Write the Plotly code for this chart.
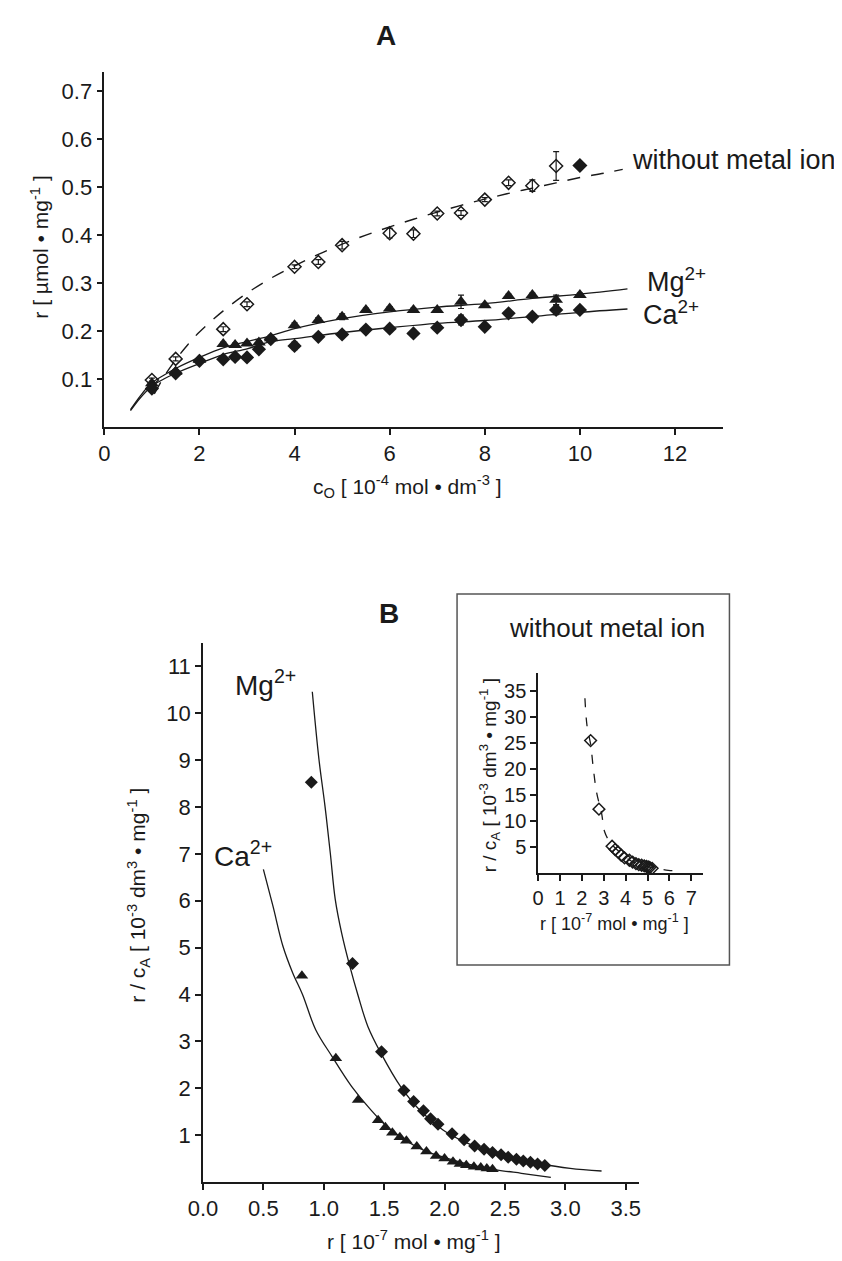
import plotly.graph_objects as go

W, H = 842, 1261
FONT = "Liberation Sans, Arial, sans-serif"
INK = "#1a1a1a"
OFF = 8  # the page body adds an 8px margin; compensate so reference pixels line up

def px(x):
    return (x - OFF) / W

def py(y):
    return 1 - (y - OFF) / H

# ---------------- Panel A data ----------------
c_metal = [1.0, 1.5, 2.0, 2.5, 2.75, 3.0, 3.25, 3.5, 4.0, 4.5, 5.0, 5.5, 6.0, 6.5, 7.0, 7.5, 8.0, 8.5, 9.0, 9.5, 10.0]
r_mg = [0.091, 0.115, 0.140, 0.173, 0.171, 0.174, 0.176, 0.185, 0.212, 0.223, 0.230, 0.244, 0.247, 0.244, 0.244, 0.261, 0.254, 0.273, 0.275, 0.265, 0.275]
err_mg = [0.004, 0.004, 0.004, 0.004, 0.004, 0.004, 0.004, 0.006, 0.005, 0.005, 0.006, 0.004, 0.004, 0.004, 0.004, 0.014, 0.004, 0.004, 0.004, 0.01, 0.004]
r_ca = [0.080, 0.112, 0.138, 0.141, 0.146, 0.145, 0.162, 0.183, 0.169, 0.188, 0.193, 0.203, 0.205, 0.195, 0.207, 0.223, 0.209, 0.237, 0.230, 0.244, 0.244]
err_ca = [0.006, 0.004, 0.004, 0.004, 0.004, 0.004, 0.004, 0.006, 0.008, 0.004, 0.004, 0.004, 0.004, 0.004, 0.004, 0.01, 0.004, 0.004, 0.004, 0.01, 0.004]

c_free = [1.0, 1.5, 2.5, 3.0, 4.0, 4.5, 5.0, 6.0, 6.5, 7.0, 7.5, 8.0, 8.5, 9.0, 9.5, 10.0]
r_free = [0.098, 0.142, 0.204, 0.256, 0.334, 0.344, 0.379, 0.404, 0.403, 0.445, 0.446, 0.474, 0.509, 0.503, 0.544, 0.545]
err_free = [0.004, 0.004, 0.005, 0.005, 0.004, 0.005, 0.008, 0.01, 0.008, 0.005, 0.005, 0.004, 0.006, 0.012, 0.03, 0.0]
sym_free = ["diamond-open"] * 15 + ["diamond"]

c_fit_free = [1.05, 1.25, 1.5, 1.75, 2.0, 2.5, 3.0, 3.5, 4.0, 4.5, 5.0, 5.5, 6.0, 6.5, 7.0, 7.5, 8.0, 8.5, 9.0, 9.5, 10.0, 10.5, 10.9]
r_fit_free = [0.069, 0.104, 0.140, 0.171, 0.198, 0.242, 0.279, 0.310, 0.336, 0.360, 0.381, 0.400, 0.417, 0.433, 0.448, 0.462, 0.475, 0.487, 0.498, 0.509, 0.520, 0.529, 0.537]

c_fit_metal = [0.55, 0.75, 1.0, 1.25, 1.5, 2.0, 2.5, 3.0, 3.5, 4.0, 5.0, 6.0, 7.0, 8.0, 9.0, 10.0, 11.0]
r_fit_mg = [0.036, 0.064, 0.092, 0.108, 0.122, 0.145, 0.165, 0.178, 0.190, 0.205, 0.226, 0.240, 0.250, 0.257, 0.268, 0.277, 0.288]
r_fit_ca = [0.034, 0.060, 0.085, 0.100, 0.112, 0.132, 0.151, 0.163, 0.178, 0.184, 0.197, 0.207, 0.216, 0.222, 0.230, 0.239, 0.246]

a_xticks = [0, 2, 4, 6, 8, 10, 12]
a_yticks = [0.1, 0.2, 0.3, 0.4, 0.5, 0.6, 0.7]

# ---------------- Panel B data ----------------
b_mg_r = [0.897, 1.238, 1.478, 1.663, 1.744, 1.825, 1.884, 1.946, 2.062, 2.162, 2.249, 2.327, 2.397, 2.468, 2.527, 2.595, 2.652, 2.711, 2.770, 2.830]
b_mg_rc = [8.53, 4.66, 2.78, 1.95, 1.72, 1.52, 1.35, 1.23, 1.03, 0.90, 0.77, 0.70, 0.63, 0.58, 0.53, 0.485, 0.45, 0.42, 0.385, 0.35]
b_ca_r = [0.819, 1.10, 1.284, 1.45, 1.51, 1.568, 1.63, 1.684, 1.77, 1.85, 1.93, 2.0, 2.07, 2.127, 2.18, 2.243, 2.30, 2.35, 2.397]
b_ca_rc = [4.40, 2.64, 1.75, 1.32, 1.17, 1.05, 0.955, 0.88, 0.755, 0.65, 0.555, 0.50, 0.43, 0.385, 0.356, 0.327, 0.31, 0.29, 0.27]

b_fit_mg_r = [0.905, 0.96, 1.01, 1.054, 1.095, 1.148, 1.216, 1.284, 1.365, 1.473, 1.635, 1.80, 1.987, 2.17, 2.365, 2.57, 2.77, 3.04, 3.30]
b_fit_mg_rc = [10.46, 9.02, 8.02, 7.02, 6.03, 5.31, 4.60, 3.98, 3.32, 2.75, 2.04, 1.52, 1.11, 0.85, 0.65, 0.51, 0.40, 0.29, 0.235]
b_fit_ca_r = [0.50, 0.58, 0.662, 0.743, 0.824, 0.933, 1.068, 1.23, 1.379, 1.554, 1.825, 2.03, 2.23, 2.43, 2.636, 2.88]
b_fit_ca_rc = [6.67, 5.88, 5.03, 4.46, 4.00, 3.25, 2.68, 2.04, 1.57, 1.11, 0.68, 0.50, 0.36, 0.26, 0.186, 0.10]

b_xticks = [0.0, 0.5, 1.0, 1.5, 2.0, 2.5, 3.0, 3.5]
b_yticks = [1, 2, 3, 4, 5, 6, 7, 8, 9, 10, 11]

# ---------------- Inset data ----------------
in_r = [2.40, 2.78, 3.38, 3.52, 3.65, 3.80, 3.95, 4.17, 4.32, 4.47, 4.60, 4.73, 4.85, 4.95, 5.03, 5.10, 5.21]
in_rc = [25.4, 12.25, 5.13, 4.5, 4.04, 3.4, 2.9, 2.44, 2.1, 1.8, 1.6, 1.48, 1.35, 1.25, 1.15, 1.05, 0.9]
in_fit_r = [2.14, 2.24, 2.40, 2.53, 2.68, 2.90, 3.04, 3.27, 3.57, 4.17, 4.91, 5.36, 5.95, 6.55]
in_fit_rc = [33.5, 28.1, 24.7, 19.8, 15.3, 11.5, 7.9, 6.0, 4.6, 2.5, 1.3, 0.95, 0.5, 0.4]
in_xticks = [0, 1, 2, 3, 4, 5, 6, 7]
in_yticks = [5, 10, 15, 20, 25, 30, 35]

fig = go.Figure()

def err(arr):
    return dict(type="data", array=arr, visible=True, color=INK, thickness=1.2, width=3)

# Panel A
fig.add_trace(go.Scatter(x=c_fit_free, y=r_fit_free, mode="lines", line=dict(color=INK, width=1.4, dash="13px,11px", shape="spline"), xaxis="x", yaxis="y"))
fig.add_trace(go.Scatter(x=c_fit_metal, y=r_fit_mg, mode="lines", line=dict(color=INK, width=1.3, shape="spline"), xaxis="x", yaxis="y"))
fig.add_trace(go.Scatter(x=c_fit_metal, y=r_fit_ca, mode="lines", line=dict(color=INK, width=1.3, shape="spline"), xaxis="x", yaxis="y"))
fig.add_trace(go.Scatter(x=c_free, y=r_free, mode="markers", error_y=err(err_free),
                         marker=dict(symbol=sym_free, size=10, color=INK, line=dict(color=INK, width=1.5)), xaxis="x", yaxis="y"))
fig.add_trace(go.Scatter(x=c_metal, y=r_mg, mode="markers", error_y=err(err_mg),
                         marker=dict(symbol="triangle-up", size=12, color=INK), xaxis="x", yaxis="y"))
fig.add_trace(go.Scatter(x=c_metal, y=r_ca, mode="markers", error_y=err(err_ca),
                         marker=dict(symbol="diamond", size=11, color=INK), xaxis="x", yaxis="y"))

# Panel B
fig.add_trace(go.Scatter(x=b_fit_mg_r, y=b_fit_mg_rc, mode="lines", line=dict(color=INK, width=1.3, shape="spline"), xaxis="x2", yaxis="y2"))
fig.add_trace(go.Scatter(x=b_fit_ca_r, y=b_fit_ca_rc, mode="lines", line=dict(color=INK, width=1.3, shape="spline"), xaxis="x2", yaxis="y2"))
fig.add_trace(go.Scatter(x=b_mg_r, y=b_mg_rc, mode="markers", marker=dict(symbol="diamond", size=10, color=INK), xaxis="x2", yaxis="y2"))
fig.add_trace(go.Scatter(x=b_ca_r, y=b_ca_rc, mode="markers", marker=dict(symbol="triangle-up", size=11, color=INK), xaxis="x2", yaxis="y2"))

# Inset
fig.add_trace(go.Scatter(x=in_fit_r, y=in_fit_rc, mode="lines", line=dict(color=INK, width=1.3, dash="9px,10px", shape="spline"), xaxis="x3", yaxis="y3"))
fig.add_trace(go.Scatter(x=in_r, y=in_rc, mode="markers", marker=dict(symbol="diamond-open", size=9, color=INK, line=dict(color=INK, width=1.5)), xaxis="x3", yaxis="y3"))

def axis_style(fs):
    return dict(showline=True, linecolor=INK, linewidth=1.5, ticks="outside", ticklen=6, tickwidth=1.5,
                tickcolor=INK, showgrid=False, zeroline=False, tickfont=dict(family=FONT, size=fs, color=INK))

fig.update_layout(
    width=W, height=H, autosize=False, showlegend=False,
    margin=dict(l=0, r=0, t=0, b=0),
    paper_bgcolor="white", plot_bgcolor="white",
    xaxis=dict(domain=[px(91), px(722)], range=[0, 13], tickvals=a_xticks, ticktext=[str(v) for v in a_xticks], anchor="y", **axis_style(22)),
    yaxis=dict(domain=[py(427), py(72)], range=[0, 0.74], tickvals=a_yticks, ticktext=["%.1f" % v for v in a_yticks], anchor="x", **axis_style(22)),
    xaxis2=dict(domain=[px(191.7), px(636.7)], range=[0, 3.61], tickvals=b_xticks, ticktext=["%.1f" % v for v in b_xticks], anchor="y2", **axis_style(22)),
    yaxis2=dict(domain=[py(1182), py(643)], range=[0, 11.5], tickvals=b_yticks, ticktext=[str(v) for v in b_yticks], anchor="x2", **axis_style(22)),
    xaxis3=dict(domain=[px(533.7), px(701.7)], range=[0, 7.52], tickvals=in_xticks, ticktext=[str(v) for v in in_xticks], anchor="y3", **axis_style(20)),
    yaxis3=dict(domain=[py(873), py(673.3)], range=[0, 38.3], tickvals=in_yticks, ticktext=[str(v) for v in in_yticks], anchor="x3", **axis_style(20)),
)

fig.add_shape(type="rect", xref="paper", yref="paper", x0=px(451), x1=px(729), y0=py(965), y1=py(594),
              line=dict(color="#555555", width=1.5), fillcolor="rgba(0,0,0,0)", layer="below")

def note(x, y, text, size=19, xanchor="center", angle=0, bold=False):
    t = "<b>%s</b>" % text if bold else text
    fig.add_annotation(x=px(x), y=py(y), xref="paper", yref="paper", text=t, showarrow=False,
                       xanchor=xanchor, yanchor="middle", textangle=angle,
                       font=dict(family=FONT, size=size, color=INK))

note(378, 35, "A", size=28, bold=True)
note(382, 613, "B", size=28, bold=True)
note(627, 160, "without metal ion", size=27, xanchor="left")
note(643, 280, "Mg<sup>2+</sup>", size=27, xanchor="left")
note(639, 313, "Ca<sup>2+</sup>", size=27, xanchor="left")
note(400, 486, "c<sub>O</sub> [ 10<sup>-4</sup> mol • dm<sup>-3</sup> ]", size=21)
note(25, 247, "r [ µmol • mg<sup>-1</sup> ]", size=21, angle=-90)

note(604, 628, "without metal ion", size=26)
note(485, 775, "r / c<sub>A</sub> [ 10<sup>-3</sup> dm<sup>3</sup> • mg<sup>-1</sup> ]", size=19, angle=-90)
note(612, 922, "r [ 10<sup>-7</sup> mol • mg<sup>-1</sup> ]", size=18)

note(222, 683, "Mg<sup>2+</sup>", size=28, xanchor="left")
note(201, 854, "Ca<sup>2+</sup>", size=28, xanchor="left")
note(125, 895, "r / c<sub>A</sub> [ 10<sup>-3</sup> dm<sup>3</sup> • mg<sup>-1</sup> ]", size=21, angle=-90)
note(407, 1240, "r [ 10<sup>-7</sup> mol • mg<sup>-1</sup> ]", size=21)

fig.write_html("out.html")
